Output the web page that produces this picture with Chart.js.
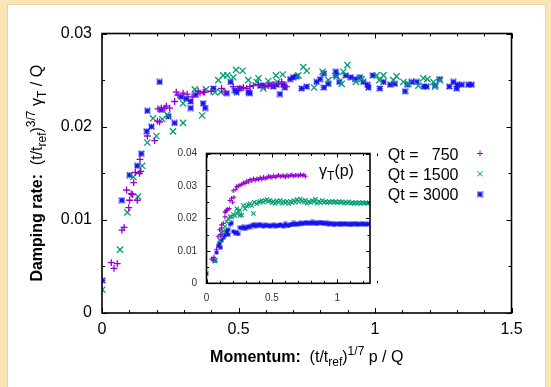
<!DOCTYPE html>
<html><head><meta charset="utf-8">
<script src="https://cdn.jsdelivr.net/npm/chart.js@4.4.0/dist/chart.umd.min.js"></script>
<style>
html,body{margin:0;padding:0;width:551px;height:387px;overflow:hidden;background:#fce5b4;}
#panel{position:absolute;left:7px;top:4px;width:537px;height:390px;background:#fff;border:1px solid #ead39f;}
#mainCanvas{position:absolute;left:0;top:0;}
#insetCanvas{position:absolute;left:160px;top:138px;}
</style>
</head><body>
<div id="panel"></div>
<canvas id="mainCanvas" width="551" height="387"></canvas>
<canvas id="insetCanvas" width="220" height="172"></canvas>
<script>
// ---------------- DATA ----------------
const seriesLabels = ['Qt =   750', 'Qt = 1500', 'Qt = 3000'];
const mainXTickValues = [0, 0.5, 1, 1.5];
const mainXTickLabels = ['0', '0.5', '1', '1.5'];
const mainYTickValues = [0, 0.01, 0.02, 0.03];
const mainYTickLabels = ['0', '0.01', '0.02', '0.03'];
const insetXTickValues = [0, 0.5, 1];
const insetXTickLabels = ['0', '0.5', '1'];
const insetYTickValues = [0, 0.01, 0.02, 0.03, 0.04];
const insetYTickLabels = ['0', '0.01', '0.02', '0.03', '0.04'];

// main panel: scaled momentum vs scaled damping rate
const main750 = [[0.034,0.0054],[0.044,0.0048],[0.056,0.0053],[0.073,0.0089],[0.081,0.0092],[0.090,0.0132],[0.098,0.0113],[0.101,0.0121],[0.107,0.0128],[0.112,0.0127],[0.116,0.0140],[0.122,0.0151],[0.129,0.0121],[0.137,0.0150],[0.139,0.0165],[0.142,0.0152],[0.166,0.0190],[0.193,0.0185],[0.203,0.0206],[0.205,0.0219],[0.211,0.0205],[0.217,0.0220],[0.230,0.0220],[0.236,0.0222],[0.248,0.0220],[0.266,0.0227],[0.272,0.0237],[0.278,0.0234],[0.297,0.0236],[0.312,0.0235],[0.330,0.0232],[0.352,0.0238],[0.359,0.0236],[0.371,0.0237],[0.376,0.0237],[0.400,0.0238],[0.438,0.0241],[0.451,0.0237],[0.481,0.0243],[0.505,0.0241],[0.518,0.0242],[0.530,0.0241],[0.542,0.0243],[0.554,0.0244],[0.573,0.0245],[0.597,0.0243],[0.609,0.0244],[0.627,0.0245],[0.646,0.0246],[0.658,0.0248],[0.676,0.0243]];
const main1500 = [[0.001,0.0025],[0.066,0.0068],[0.093,0.0108],[0.115,0.0146],[0.132,0.0125],[0.147,0.0158],[0.166,0.0183],[0.187,0.0209],[0.199,0.0190],[0.221,0.0208],[0.239,0.0213],[0.260,0.0195],[0.297,0.0204],[0.297,0.0225],[0.340,0.0240],[0.367,0.0212],[0.381,0.0240],[0.414,0.0237],[0.426,0.0250],[0.435,0.0237],[0.444,0.0255],[0.459,0.0255],[0.481,0.0253],[0.491,0.0261],[0.515,0.0260],[0.536,0.0250],[0.567,0.0248],[0.573,0.0252],[0.591,0.0241],[0.609,0.0249],[0.637,0.0255],[0.642,0.0248],[0.662,0.0256],[0.719,0.0255],[0.737,0.0264],[0.750,0.0260],[0.777,0.0242],[0.808,0.0259],[0.829,0.0250],[0.860,0.0254],[0.878,0.0246],[0.884,0.0259],[0.899,0.0266],[0.930,0.0248],[0.951,0.0251],[1.006,0.0255],[1.016,0.0250],[1.031,0.0255],[1.067,0.0250],[1.079,0.0254],[1.104,0.0248],[1.122,0.0246],[1.159,0.0244],[1.177,0.0252],[1.192,0.0251],[1.214,0.0248],[1.220,0.0243],[1.238,0.0250]];
const main3000 = [[0.001,0.0035],[0.073,0.0121],[0.101,0.0148],[0.129,0.0158],[0.144,0.0171],[0.164,0.0195],[0.166,0.0217],[0.181,0.0200],[0.211,0.0248],[0.217,0.0218],[0.244,0.0211],[0.266,0.0204],[0.290,0.0232],[0.309,0.0230],[0.325,0.0227],[0.325,0.0220],[0.343,0.0234],[0.370,0.0225],[0.378,0.0220],[0.408,0.0241],[0.457,0.0236],[0.471,0.0248],[0.487,0.0239],[0.493,0.0237],[0.505,0.0241],[0.536,0.0237],[0.542,0.0236],[0.579,0.0244],[0.591,0.0244],[0.615,0.0245],[0.627,0.0243],[0.640,0.0245],[0.652,0.0235],[0.664,0.0245],[0.670,0.0242],[0.689,0.0251],[0.700,0.0253],[0.713,0.0254],[0.731,0.0241],[0.750,0.0243],[0.786,0.0248],[0.799,0.0251],[0.813,0.0242],[0.813,0.0257],[0.829,0.0246],[0.857,0.0259],[0.857,0.0255],[0.869,0.0248],[0.893,0.0255],[0.911,0.0253],[0.927,0.0251],[0.945,0.0253],[0.957,0.0248],[0.972,0.0245],[0.976,0.0242],[0.992,0.0255],[1.018,0.0241],[1.031,0.0248],[1.055,0.0245],[1.073,0.0246],[1.110,0.0238],[1.118,0.0245],[1.134,0.0248],[1.153,0.0248],[1.179,0.0243],[1.189,0.0243],[1.220,0.0244],[1.236,0.0251],[1.272,0.0243],[1.287,0.0248],[1.299,0.0241],[1.302,0.0245],[1.318,0.0245],[1.342,0.0245],[1.354,0.0245]];

// inset: unscaled gamma_T(p)
const inset750 = [[0.038,0.0075],[0.051,0.0072],[0.056,0.0080],[0.077,0.0105],[0.089,0.0145],[0.100,0.0165],[0.108,0.0150],[0.115,0.0180],[0.115,0.0170],[0.128,0.0185],[0.141,0.0205],[0.141,0.0220],[0.148,0.0220],[0.154,0.0225],[0.158,0.0228],[0.174,0.0230],[0.179,0.0255],[0.192,0.0262],[0.200,0.0250],[0.205,0.0285],[0.210,0.0265],[0.225,0.0290],[0.231,0.0298],[0.243,0.0300],[0.256,0.0302],[0.270,0.0305],[0.282,0.0310],[0.295,0.0308],[0.308,0.0315],[0.320,0.0312],[0.333,0.0320],[0.346,0.0316],[0.359,0.0322],[0.372,0.0318],[0.385,0.0322],[0.398,0.0320],[0.410,0.0325],[0.423,0.0321],[0.436,0.0327],[0.449,0.0323],[0.462,0.0325],[0.475,0.0330],[0.487,0.0328],[0.500,0.0326],[0.513,0.0331],[0.526,0.0327],[0.538,0.0330],[0.551,0.0333],[0.564,0.0329],[0.577,0.0331],[0.590,0.0331],[0.603,0.0328],[0.615,0.0333],[0.628,0.0330],[0.641,0.0332],[0.654,0.0334],[0.667,0.0330],[0.679,0.0333],[0.692,0.0333],[0.705,0.0331],[0.718,0.0335],[0.731,0.0332],[0.744,0.0334],[0.756,0.0330]];
const inset1500 = [[0.064,0.0068],[0.070,0.0072],[0.100,0.0133],[0.115,0.0145],[0.115,0.0158],[0.128,0.0160],[0.141,0.0175],[0.154,0.0190],[0.167,0.0200],[0.180,0.0205],[0.192,0.0205],[0.205,0.0212],[0.218,0.0208],[0.231,0.0215],[0.231,0.0230],[0.243,0.0222],[0.256,0.0225],[0.256,0.0210],[0.270,0.0210],[0.282,0.0240],[0.295,0.0230],[0.308,0.0238],[0.320,0.0242],[0.333,0.0245],[0.346,0.0240],[0.359,0.0215],[0.365,0.0250],[0.385,0.0245],[0.397,0.0250],[0.410,0.0252],[0.423,0.0255],[0.436,0.0250],[0.449,0.0255],[0.462,0.0258],[0.475,0.0252],[0.487,0.0256],[0.500,0.0248],[0.513,0.0252],[0.526,0.0246],[0.538,0.0254],[0.551,0.0250],[0.564,0.0255],[0.577,0.0247],[0.590,0.0252],[0.603,0.0248],[0.615,0.0253],[0.628,0.0246],[0.641,0.0252],[0.654,0.0249],[0.667,0.0255],[0.679,0.0250],[0.692,0.0258],[0.705,0.0252],[0.718,0.0260],[0.731,0.0254],[0.744,0.0250],[0.756,0.0256],[0.769,0.0247],[0.782,0.0252],[0.795,0.0249],[0.808,0.0255],[0.821,0.0251],[0.833,0.0259],[0.846,0.0247],[0.859,0.0253],[0.872,0.0249],[0.885,0.0255],[0.897,0.0250],[0.910,0.0252],[0.923,0.0248],[0.936,0.0252],[0.949,0.0250],[0.962,0.0253],[0.974,0.0249],[0.987,0.0251],[1.000,0.0248],[1.013,0.0252],[1.026,0.0249],[1.038,0.0251],[1.051,0.0247],[1.064,0.0250],[1.077,0.0248],[1.090,0.0251],[1.103,0.0247],[1.115,0.0249],[1.128,0.0246],[1.141,0.0249],[1.154,0.0247],[1.167,0.0250],[1.179,0.0246],[1.192,0.0249],[1.205,0.0247],[1.218,0.0248],[1.231,0.0246],[1.244,0.0248]];
const inset3000 = [[0.000,0.0030],[0.064,0.0070],[0.077,0.0095],[0.089,0.0115],[0.100,0.0122],[0.108,0.0110],[0.115,0.0132],[0.128,0.0140],[0.141,0.0148],[0.154,0.0155],[0.154,0.0162],[0.167,0.0150],[0.167,0.0165],[0.180,0.0182],[0.192,0.0186],[0.205,0.0160],[0.218,0.0155],[0.231,0.0158],[0.243,0.0152],[0.256,0.0172],[0.270,0.0170],[0.282,0.0174],[0.295,0.0168],[0.308,0.0172],[0.320,0.0176],[0.333,0.0173],[0.346,0.0178],[0.359,0.0181],[0.372,0.0176],[0.385,0.0180],[0.397,0.0177],[0.410,0.0182],[0.423,0.0178],[0.436,0.0176],[0.449,0.0180],[0.462,0.0177],[0.475,0.0179],[0.487,0.0176],[0.500,0.0178],[0.513,0.0180],[0.526,0.0176],[0.538,0.0179],[0.551,0.0177],[0.564,0.0181],[0.577,0.0178],[0.590,0.0176],[0.603,0.0183],[0.615,0.0179],[0.628,0.0177],[0.641,0.0182],[0.654,0.0180],[0.667,0.0186],[0.679,0.0181],[0.692,0.0184],[0.705,0.0182],[0.718,0.0186],[0.731,0.0183],[0.744,0.0185],[0.756,0.0188],[0.769,0.0184],[0.782,0.0187],[0.795,0.0185],[0.808,0.0189],[0.821,0.0184],[0.833,0.0187],[0.846,0.0183],[0.859,0.0186],[0.872,0.0188],[0.885,0.0184],[0.897,0.0187],[0.910,0.0183],[0.923,0.0186],[0.936,0.0182],[0.949,0.0185],[0.962,0.0183],[0.974,0.0180],[0.987,0.0184],[1.000,0.0182],[1.013,0.0185],[1.026,0.0181],[1.038,0.0184],[1.051,0.0182],[1.064,0.0185],[1.077,0.0181],[1.090,0.0183],[1.103,0.0180],[1.115,0.0184],[1.128,0.0182],[1.141,0.0185],[1.154,0.0181],[1.167,0.0183],[1.179,0.0182],[1.192,0.0184],[1.205,0.0181],[1.218,0.0183],[1.231,0.0182],[1.244,0.0183]];

// ---------------- STYLE ----------------
const FONT = '"Liberation Sans", Arial, Helvetica, sans-serif';
const colors = ['#9400d3', '#009e73', '#1414f0'];

// gnuplot-like asterisk (+ overlaid with a corner-to-corner x)
function asterisk(size, lw, color) {
  const c = document.createElement('canvas');
  c.width = size; c.height = size;
  const g = c.getContext('2d');
  g.strokeStyle = color; g.lineWidth = lw;
  const m = size / 2, e = lw / 2;
  g.beginPath();
  g.moveTo(m, e); g.lineTo(m, size - e);
  g.moveTo(e, m); g.lineTo(size - e, m);
  g.moveTo(e, e); g.lineTo(size - e, size - e);
  g.moveTo(size - e, e); g.lineTo(e, size - e);
  g.stroke();
  return c;
}
const mainStyles = ['cross', 'crossRot', asterisk(7, 1.4, colors[2])];
const insetStyles = ['cross', 'crossRot', asterisk(5, 1.1, colors[2])];
const legendStar = asterisk(7, 1.3, colors[2]);
const mainRadius = [3.4, 4.4, 3.5];
const insetRadius = [2.3, 3.0, 2.5];
const mainWidth = [1.3, 1.3, 1.4];
const insetWidth = [1.1, 1.1, 1.1];

function toXY(arr) { return arr.map(p => ({x: p[0], y: p[1]})); }
function makeSets(list, stylesArr, radius, width) {
  return list.map((arr, i) => ({
    label: seriesLabels[i], data: toXY(arr), showLine: false,
    pointStyle: stylesArr[i], pointRadius: radius[i], pointBorderWidth: width[i],
    borderColor: colors[i], backgroundColor: colors[i], pointHoverRadius: radius[i]
  }));
}

function drawRich(ctx, segs, cx, cy, rotate) {
  ctx.save();
  let total = 0;
  segs.forEach(s => { ctx.font = s.f; s.w = ctx.measureText(s.t).width; total += s.w; });
  ctx.translate(cx, cy);
  if (rotate) ctx.rotate(-Math.PI / 2);
  ctx.textAlign = 'left'; ctx.textBaseline = 'alphabetic'; ctx.fillStyle = '#000';
  let x = -total / 2;
  segs.forEach(s => { ctx.font = s.f; ctx.fillText(s.t, x, s.dy || 0); x += s.w; });
  ctx.restore();
}

function drawFrameTicks(chart, xStep, xMajor, yStep, yMajor, majLen, minLen, lw) {
  const ctx = chart.ctx, a = chart.chartArea;
  const xs = chart.scales.x, ys = chart.scales.y;
  ctx.save();
  ctx.strokeStyle = '#000'; ctx.lineWidth = 1;
  ctx.beginPath();
  const nx = Math.round((xs.max - xs.min) / xStep);
  for (let i = 0; i <= nx; i++) {
    const v = xs.min + i * xStep;
    const px = Math.round(xs.getPixelForValue(v)) + 0.5;
    const len = (Math.abs(v / xMajor - Math.round(v / xMajor)) < 1e-6) ? majLen : minLen;
    ctx.moveTo(px, a.bottom); ctx.lineTo(px, a.bottom - len);
    ctx.moveTo(px, a.top); ctx.lineTo(px, a.top + len);
  }
  const ny = Math.round((ys.max - ys.min) / yStep);
  for (let i = 0; i <= ny; i++) {
    const v = ys.min + i * yStep;
    const py = Math.round(ys.getPixelForValue(v)) + 0.5;
    const len = (Math.abs(v / yMajor - Math.round(v / yMajor)) < 1e-6) ? majLen : minLen;
    ctx.moveTo(a.left, py); ctx.lineTo(a.left + len, py);
    ctx.moveTo(a.right, py); ctx.lineTo(a.right - len, py);
  }
  ctx.stroke();
  ctx.lineWidth = lw;
  ctx.strokeRect(a.left, a.top, a.right - a.left, a.bottom - a.top);
  ctx.restore();
}

const mainPlugin = {
  id: 'mainDecor',
  afterDraw(chart) {
    const ctx = chart.ctx;
    drawFrameTicks(chart, 0.1, 0.5, 0.005, 0.01, 5, 3, 1.6);
    const B = 'bold 16px ' + FONT, N = '16px ' + FONT, S = '12px ' + FONT;
    const a = chart.chartArea;
    drawRich(ctx, [
      {t: 'Momentum:', f: B}, {t: '  (t/t', f: N}, {t: 'ref', f: S, dy: 4},
      {t: ')', f: N}, {t: '1/7', f: S, dy: -7}, {t: ' p / Q', f: N}
    ], (a.left + a.right) / 2, 361.5, false);
    drawRich(ctx, [
      {t: 'Damping rate:', f: B}, {t: '  (t/t', f: N}, {t: 'ref', f: S, dy: 4},
      {t: ')', f: N}, {t: '3/7', f: S, dy: -7}, {t: ' \u03B3', f: N}, {t: 'T', f: S, dy: 4},
      {t: ' / Q', f: N}
    ], 42, (a.top + a.bottom) / 2, true);
    // legend
    ctx.save();
    ctx.font = N; ctx.textAlign = 'right'; ctx.textBaseline = 'alphabetic';
    const rows = [153.5, 173.8, 194.2];
    const legStyles = ['cross', 'crossRot', legendStar];
    chart.data.datasets.forEach((ds, i) => {
      ctx.fillStyle = '#000';
      ctx.fillText(ds.label, 458.5, rows[i] + 6);
      ctx.strokeStyle = colors[i]; ctx.fillStyle = colors[i];
      Chart.helpers.drawPoint(ctx, {pointStyle: legStyles[i], radius: mainRadius[i] * 0.85, borderWidth: 1.2, rotation: 0}, 480, rows[i]);
    });
    ctx.restore();
  }
};

const insetPlugin = {
  id: 'insetDecor',
  beforeDraw(chart) {
    const a = chart.chartArea, ctx = chart.ctx;
    ctx.save(); ctx.fillStyle = '#fff';
    ctx.fillRect(a.left, a.top, a.right - a.left, a.bottom - a.top);
    ctx.restore();
  },
  afterDraw(chart) {
    drawFrameTicks(chart, 0.1, 0.5, 0.005, 0.01, 4, 2.5, 1.6);
    const ctx = chart.ctx;
    drawRich(ctx, [
      {t: '\u03B3', f: '16px ' + FONT}, {t: 'T', f: '12px ' + FONT, dy: 4}, {t: '(p)', f: '16px ' + FONT}
    ], 336.5 - 160, 176 - 138, false);
  }
};

function axisCfg(min, max, tickVals, tickLabels, fontSize, pad, fitProp, fitVal, color) {
  return {
    type: 'linear', min: min, max: max,
    grid: {display: false, drawTicks: false}, border: {display: false},
    afterBuildTicks: s => { s.ticks = tickVals.map(v => ({value: v})); },
    afterFit: s => { s[fitProp] = fitVal; },
    ticks: {
      autoSkip: false, maxRotation: 0, minRotation: 0, padding: pad, color: color,
      font: {family: FONT, size: fontSize},
      callback: (v, i) => tickLabels[i]
    }
  };
}

Chart.defaults.font.family = FONT;

new Chart(document.getElementById('mainCanvas'), {
  type: 'scatter',
  data: {datasets: makeSets([main750, main1500, main3000], mainStyles, mainRadius, mainWidth)},
  options: {
    responsive: false, animation: false, events: [],
    layout: {padding: {left: 0, top: 33.5, right: 39.5, bottom: 0}},
    plugins: {legend: {display: false}, tooltip: {enabled: false}},
    scales: {
      x: axisCfg(0, 1.5, mainXTickValues, mainXTickLabels, 16, 7, 'height', 74, '#000'),
      y: axisCfg(0, 0.03, mainYTickValues, mainYTickLabels, 16, 10, 'width', 102, '#000')
    }
  },
  plugins: [mainPlugin]
});

new Chart(document.getElementById('insetCanvas'), {
  type: 'scatter',
  data: {datasets: makeSets([inset750, inset1500, inset3000], insetStyles, insetRadius, insetWidth)},
  options: {
    responsive: false, animation: false, events: [],
    layout: {padding: {left: 0, top: 12, right: 10, bottom: 0}},
    plugins: {legend: {display: false}, tooltip: {enabled: false}},
    scales: {
      x: axisCfg(0, 1.25, insetXTickValues, insetXTickLabels, 10, 8.5, 'height', 26.7, '#333'),
      y: axisCfg(0, 0.04, insetYTickValues, insetYTickLabels, 10, 9.5, 'width', 46.5, '#333')
    }
  },
  plugins: [insetPlugin]
});
</script>
</body></html>
